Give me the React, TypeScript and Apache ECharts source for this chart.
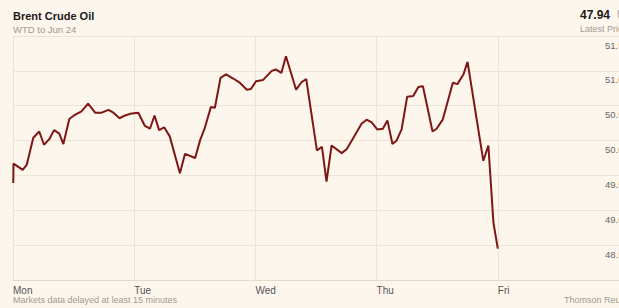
import React, { useEffect, useRef } from "react";
import * as echarts from "echarts";

const dayLabels = ["Mon", "Tue", "Wed", "Thu", "Fri"];
// hours since Monday open
const hours = [
  0.05, 0.1, 1.92, 2.71, 4.02, 5.2, 6.14, 7.19, 8.12, 9.17, 9.97, 11.15, 12.26, 13.56, 14.87, 16.27,
  17.58, 18.89, 19.89, 21.1, 22.2, 23.51, 24.81, 26.12, 27.12, 28.03, 28.93, 29.94, 31.04, 33.05,
  34.06, 36.07, 37.07, 37.97, 39.18, 39.98, 41.09, 42.19, 43.6, 44.91, 46.31, 47.12, 48.12, 49.53,
  51.23, 52.04, 53.14, 54.05, 56.06, 57.16, 58.07, 60.18, 61.18, 62.08, 63.09, 65.1, 66.1, 67.41,
  69.02, 70.02, 71.03, 72.13, 73.24, 74.14, 75.14, 75.95, 76.95, 78.06, 79.26, 80.27, 81.17, 83.08,
  83.88, 85.09, 87.1, 88.0, 89.21, 90.01, 93.13, 94.13, 95.14, 96.0,
];
const prices = [
  49.39, 49.67, 49.58, 49.65, 50.04, 50.13, 49.94, 50.02, 50.15, 50.1, 49.95, 50.31, 50.37, 50.42,
  50.53, 50.4, 50.4, 50.44, 50.4, 50.32, 50.36, 50.39, 50.4, 50.21, 50.17, 50.36, 50.15, 50.19,
  50.06, 49.53, 49.81, 49.75, 50.01, 50.18, 50.48, 50.47, 50.9, 50.95, 50.89, 50.83, 50.73, 50.74,
  50.85, 50.87, 51.0, 51.02, 50.97, 51.21, 50.73, 50.84, 50.88, 49.86, 49.91, 49.41, 49.93, 49.82,
  49.88, 50.04, 50.24, 50.3, 50.26, 50.16, 50.17, 50.29, 49.95, 50.0, 50.16, 50.63, 50.64, 50.77,
  50.78, 50.13, 50.17, 50.3, 50.83, 50.81, 50.95, 51.13, 49.71, 49.93, 48.82, 48.45,
];

const title = "Brent Crude Oil";
const subtitle = "WTD to Jun 24";
const latestValue = "47.94";
const latestSuffix = "USD";
const latestLabel = "Latest Price";
const footLeft = "Markets data delayed at least 15 minutes";
const footRight = "Thomson Reuters";

const FONT = "'Liberation Sans', Arial, sans-serif";

export default function App() {
  const ref = useRef<HTMLDivElement>(null);
  useEffect(() => {
    if (!ref.current) return;
    const chart = echarts.init(ref.current, null, { renderer: "svg" });
    const data = hours.map((h, i) => [h, prices[i]]);
    chart.setOption({
      animation: false,
      backgroundColor: "#fdf6ec",
      textStyle: { fontFamily: FONT },
      grid: {
        left: 13,
        right: 0,
        top: 36,
        bottom: 28,
        containLabel: false,
        outerBoundsMode: "none",
      },
      xAxis: {
        type: "value",
        min: 0,
        max: 120,
        interval: 24,
        axisLine: { show: true, lineStyle: { color: "#e3dacd", width: 1 } },
        axisTick: { show: false },
        splitLine: { show: true, lineStyle: { color: "#ede4d8", width: 1 } },
        axisLabel: {
          formatter: (v: number) => {
            const i = Math.round(v / 24);
            return Math.abs(v - i * 24) < 0.01 && i < dayLabels.length ? dayLabels[i] : "";
          },
          align: "left",
          margin: 5,
          fontSize: 10,
          color: "#555",
          fontFamily: FONT,
        },
      },
      yAxis: {
        type: "value",
        position: "right",
        min: 48,
        max: 51.5,
        interval: 0.5,
        axisLine: { show: false },
        axisTick: { show: false },
        splitLine: { show: true, lineStyle: { color: "#ede4d8", width: 1 } },
        axisLabel: {
          inside: true,
          align: "left",
          margin: 14,
          verticalAlign: "top",
          padding: [4, 0, 0, 0],
          showMinLabel: false,
          formatter: (v: number) => v.toFixed(2),
          fontSize: 9.5,
          color: "#666",
          fontFamily: FONT,
        },
      },
      series: [
        {
          type: "line",
          data,
          symbol: "none",
          lineStyle: { color: "#7e1616", width: 2 },
          z: 5,
        },
      ],
      graphic: [
        {
          type: "text",
          left: 13,
          top: 10,
          style: { text: title, font: `bold 11px ${FONT}`, fill: "#1a1a1a" },
        },
        {
          type: "text",
          left: 13,
          top: 24,
          style: { text: subtitle, font: `9.5px ${FONT}`, fill: "#a09a92" },
        },
        {
          type: "text",
          left: 580,
          top: 9,
          style: { text: latestValue, font: `bold 12px ${FONT}`, fill: "#1a1a1a" },
        },
        {
          type: "text",
          left: 617,
          top: 9,
          style: { text: latestSuffix, font: `bold 12px ${FONT}`, fill: "#bbb" },
        },
        {
          type: "text",
          left: 580,
          top: 24,
          style: { text: latestLabel, font: `9px ${FONT}`, fill: "#a09a92" },
        },
        {
          type: "text",
          left: 13,
          top: 295,
          style: { text: footLeft, font: `9px ${FONT}`, fill: "#a09a92" },
        },
        {
          type: "text",
          left: 564,
          top: 295,
          style: { text: footRight, font: `9px ${FONT}`, fill: "#a09a92" },
        },
      ],
    });
    return () => chart.dispose();
  }, []);
  return (
    <div
      ref={ref}
      style={{ position: "fixed", left: 0, top: 0, width: 619, height: 308, background: "#fdf6ec" }}
    />
  );
}
